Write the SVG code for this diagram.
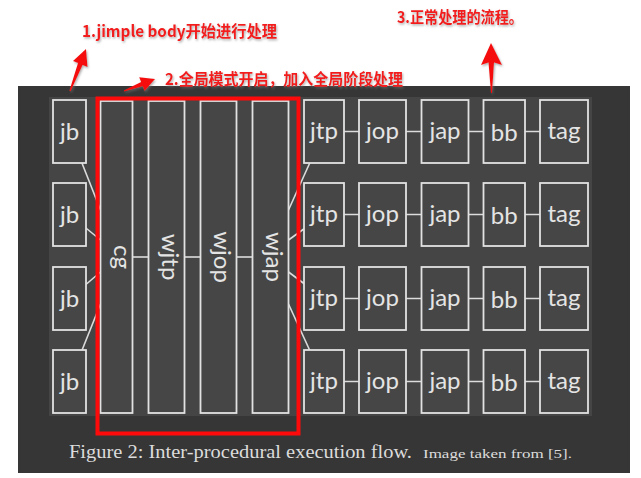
<svg xmlns="http://www.w3.org/2000/svg" width="641" height="478" viewBox="0 0 641 478">
<defs>
<style>
.box{fill:#464646;stroke:#e2e2e2;stroke-width:1.8}
.lbl{font-family:Lato,"Open Sans",sans-serif;font-size:24px;fill:#e4e4e4;text-anchor:middle}
.con{stroke:#dcdcdc;stroke-width:1.6;fill:none}
.note{font-family:"Noto Sans CJK SC","Liberation Sans",sans-serif;font-weight:bold;font-size:16px;fill:#f21c1c}
.arrow{fill:#f51010}
.cap{font-family:"Liberation Serif",serif;fill:#dcdcdc}
</style>
<filter id="sh" x="-30%" y="-30%" width="160%" height="160%">
<feDropShadow dx="1" dy="1.5" stdDeviation="1.2" flood-color="#777" flood-opacity="0.6"/>
</filter>
</defs>
<rect width="641" height="478" fill="#ffffff"/>
<rect x="18" y="86" width="612" height="387" fill="#363636"/>
<rect x="49" y="97" width="543" height="319" fill="#454545"/>

<g id="connectors">
<line class="con" x1="69.5" y1="131.5" x2="100.5" y2="210"/>
<line class="con" x1="69.5" y1="214.5" x2="100.5" y2="240"/>
<line class="con" x1="69.5" y1="298.5" x2="100.5" y2="272"/>
<line class="con" x1="69.5" y1="381.5" x2="100.5" y2="304"/>
<line class="con" x1="132.5" y1="257" x2="148.5" y2="257"/>
<line class="con" x1="184.5" y1="257" x2="200.5" y2="257"/>
<line class="con" x1="236.5" y1="257" x2="252.5" y2="257"/>
<line class="con" x1="288.5" y1="210" x2="324" y2="131.5"/>
<line class="con" x1="288.5" y1="240" x2="324" y2="214.5"/>
<line class="con" x1="288.5" y1="272" x2="324" y2="298.5"/>
<line class="con" x1="288.5" y1="304" x2="324" y2="381.5"/>
<path class="con" d="M344 131.5H359M406 131.5H421.5M468.5 131.5H483.5M525 131.5H540"/>
<path class="con" d="M344 214.5H359M406 214.5H421.5M468.5 214.5H483.5M525 214.5H540"/>
<path class="con" d="M344 298.5H359M406 298.5H421.5M468.5 298.5H483.5M525 298.5H540"/>
<path class="con" d="M344 381.5H359M406 381.5H421.5M468.5 381.5H483.5M525 381.5H540"/>
</g>

<g id="jb1"><rect class="box" x="53" y="100" width="33" height="63"/><text class="lbl" x="69.5" y="139.5">jb</text></g>
<g id="jb2"><rect class="box" x="53" y="183" width="33" height="63"/><text class="lbl" x="69.5" y="222.5">jb</text></g>
<g id="jb3"><rect class="box" x="53" y="267" width="33" height="63"/><text class="lbl" x="69.5" y="306.5">jb</text></g>
<g id="jb4"><rect class="box" x="53" y="350" width="33" height="63"/><text class="lbl" x="69.5" y="389.5">jb</text></g>

<g id="cg"><rect class="box" x="100.5" y="101" width="32" height="312"/><text class="lbl" transform="translate(116.5 257) rotate(90)" y="3">cg</text></g>
<g id="wjtp"><rect class="box" x="148.5" y="101" width="36" height="312"/><text class="lbl" transform="translate(166.5 257) rotate(90)" y="5">wjtp</text></g>
<g id="wjop"><rect class="box" x="200.5" y="101" width="36" height="312"/><text class="lbl" transform="translate(218.5 257) rotate(90)" y="5">wjop</text></g>
<g id="wjap"><rect class="box" x="252.5" y="101" width="36" height="312"/><text class="lbl" transform="translate(270.5 257) rotate(90)" y="5">wjap</text></g>

<g id="row1">
<g id="jtp1"><rect class="box" x="304" y="100" width="40" height="63"/><text class="lbl" x="324" y="139">jtp</text></g>
<g id="jop1"><rect class="box" x="359" y="100" width="47" height="63"/><text class="lbl" x="382.5" y="139">jop</text></g>
<g id="jap1"><rect class="box" x="421.5" y="100" width="47" height="63"/><text class="lbl" x="445" y="139">jap</text></g>
<g id="bb1"><rect class="box" x="483.5" y="100" width="41.5" height="63"/><text class="lbl" x="504.25" y="140.5">bb</text></g>
<g id="tag1"><rect class="box" x="540" y="100" width="48" height="63"/><text class="lbl" x="564" y="139">tag</text></g>
</g>
<g id="row2">
<g id="jtp2"><rect class="box" x="304" y="183" width="40" height="63"/><text class="lbl" x="324" y="222">jtp</text></g>
<g id="jop2"><rect class="box" x="359" y="183" width="47" height="63"/><text class="lbl" x="382.5" y="222">jop</text></g>
<g id="jap2"><rect class="box" x="421.5" y="183" width="47" height="63"/><text class="lbl" x="445" y="222">jap</text></g>
<g id="bb2"><rect class="box" x="483.5" y="183" width="41.5" height="63"/><text class="lbl" x="504.25" y="223.5">bb</text></g>
<g id="tag2"><rect class="box" x="540" y="183" width="48" height="63"/><text class="lbl" x="564" y="222">tag</text></g>
</g>
<g id="row3">
<g id="jtp3"><rect class="box" x="304" y="267" width="40" height="63"/><text class="lbl" x="324" y="306">jtp</text></g>
<g id="jop3"><rect class="box" x="359" y="267" width="47" height="63"/><text class="lbl" x="382.5" y="306">jop</text></g>
<g id="jap3"><rect class="box" x="421.5" y="267" width="47" height="63"/><text class="lbl" x="445" y="306">jap</text></g>
<g id="bb3"><rect class="box" x="483.5" y="267" width="41.5" height="63"/><text class="lbl" x="504.25" y="307.5">bb</text></g>
<g id="tag3"><rect class="box" x="540" y="267" width="48" height="63"/><text class="lbl" x="564" y="306">tag</text></g>
</g>
<g id="row4">
<g id="jtp4"><rect class="box" x="304" y="350" width="40" height="63"/><text class="lbl" x="324" y="389">jtp</text></g>
<g id="jop4"><rect class="box" x="359" y="350" width="47" height="63"/><text class="lbl" x="382.5" y="389">jop</text></g>
<g id="jap4"><rect class="box" x="421.5" y="350" width="47" height="63"/><text class="lbl" x="445" y="389">jap</text></g>
<g id="bb4"><rect class="box" x="483.5" y="350" width="41.5" height="63"/><text class="lbl" x="504.25" y="390.5">bb</text></g>
<g id="tag4"><rect class="box" x="540" y="350" width="48" height="63"/><text class="lbl" x="564" y="389">tag</text></g>
</g>

<g id="highlight">
<rect x="97.5" y="98.5" width="201" height="335" fill="none" stroke="#ff0a0a" stroke-width="4"/>
</g>

<g id="caption">
<text class="cap" x="69" y="457.5" font-size="18" textLength="343" lengthAdjust="spacingAndGlyphs">Figure 2: Inter-procedural execution flow.</text>
<text class="cap" x="423" y="457.5" font-size="13" textLength="149" lengthAdjust="spacingAndGlyphs">Image taken from [5].</text>
</g>

<g id="annotations" filter="url(#sh)">
<polygon class="arrow" points="86,49 87.5,67 82.6,64.9 70.6,91.3 69.4,90.7 78,63.1 73,61"/>
<polygon class="arrow" points="155,79 144.6,91 142.7,86.2 124.2,91.5 123.8,90.5 141.1,82 139.2,77.3"/>
<polygon class="arrow" points="491,43 502,65 494,62.5 492,93 491,93 488.5,62.5 481,65"/>
<text class="note" x="82" y="37" textLength="195" lengthAdjust="spacingAndGlyphs">1.jimple body开始进行处理</text>
<text class="note" x="165" y="85" textLength="238" lengthAdjust="spacingAndGlyphs">2.全局模式开启，加入全局阶段处理</text>
<text class="note" x="397" y="22.5" textLength="126" lengthAdjust="spacingAndGlyphs">3.正常处理的流程。</text>
</g>
</svg>
